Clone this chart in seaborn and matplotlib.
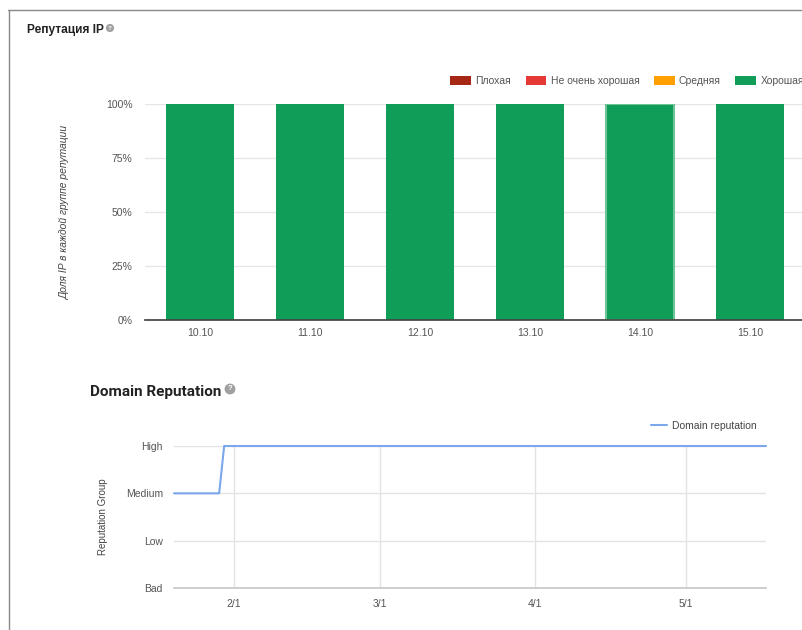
import numpy as np
import pandas as pd
import matplotlib
matplotlib.use("Agg")
import matplotlib.pyplot as plt
import matplotlib.dates as mdates
from matplotlib.patches import Patch
from matplotlib.lines import Line2D
import seaborn as sns

# IP reputation data (share of IPs per group, by day)
days = ["10.10", "11.10", "12.10", "13.10", "14.10", "15.10"]
groups = ["Плохая", "Не очень хорошая", "Средняя", "Хорошая"]
bad = [0, 0, 0, 0, 0, 0]
not_good = [0, 0, 0, 0, 0, 0]
medium = [0, 0, 0, 0, 0, 0]
good = [1.0, 1.0, 1.0, 1.0, 1.0, 1.0]
pct_ticks = [0, 0.25, 0.5, 0.75, 1.0]
pct_labels = ["0%", "25%", "50%", "75%", "100%"]

# Domain reputation data (change points only)
rep_dates = ["2020-01-20", "2020-01-29", "2020-01-30", "2020-05-17"]
rep_values = ["Medium", "Medium", "High", "High"]
rep_levels = ["Bad", "Low", "Medium", "High"]

group_colors = ["#a52714", "#e53935", "#ffa000", "#0f9d58"]
line_color = "#7ba7ec"
text_gray = "#555555"

sns.set_theme(style="white")
plt.rcParams["font.family"] = ["Liberation Sans", "DejaVu Sans"]

fig = plt.figure(figsize=(8.03, 6.3), dpi=100)
W, H = 803, 630

def box(x0, y0, x1, y1):
    return [x0 / W, 1 - y1 / H, (x1 - x0) / W, (y1 - y0) / H]

# frame of the screenshot
fig.add_artist(Line2D([8 / W, 1], [1 - 10 / H, 1 - 10 / H], color="#888888", lw=1))
fig.add_artist(Line2D([9 / W, 9 / W], [0, 1 - 10 / H], color="#888888", lw=1))

# ---------- top chart ----------
ax1 = fig.add_axes(box(145, 104, 805, 320))
layers = np.array([bad, not_good, medium, good], dtype=float)
cum = np.cumsum(layers, axis=0)
for i in range(len(groups) - 1, -1, -1):
    sns.barplot(x=days, y=cum[i], color=group_colors[i], width=0.62,
                saturation=1, linewidth=0, ax=ax1)

# hovered bar outline (14.10)
hover = ax1.patches[days.index("14.10")]
hover.set_edgecolor("#6cc596")
hover.set_linewidth(1.5)

ax1.set_xlim(-0.5, len(days) - 0.5)
ax1.set_ylim(0, 1)
ax1.set_yticks(pct_ticks)
ax1.set_yticklabels(pct_labels)
ax1.yaxis.grid(True, color="#e6e6e6", lw=1)
ax1.set_axisbelow(True)
for s in ["top", "right", "left"]:
    ax1.spines[s].set_visible(False)
ax1.spines["bottom"].set_color("#444444")
ax1.tick_params(axis="both", length=0, labelsize=7.5, colors=text_gray)
ax1.tick_params(axis="y", pad=9)
ax1.tick_params(axis="x", pad=6)
ax1.set_xlabel("")
ax1.set_ylabel("Доля IP в каждой группе репутации", fontsize=7.4, style="italic", color="#444444")
ax1.yaxis.set_label_coords(-0.114, 0.5)

handles = [Patch(facecolor=c, edgecolor="none") for c in group_colors]
fig.legend(handles, groups, loc="center left", bbox_to_anchor=(441 / W, 1 - 81 / H),
           ncol=4, frameon=False, fontsize=7.5, handlelength=2.0, handleheight=0.9,
           handletextpad=0.4, columnspacing=1.4, labelcolor=text_gray)

fig.text(27 / W, 1 - 30 / H, "Репутация IP", fontsize=8.6, fontweight="bold",
         color="#222222", va="center", ha="left")
fig.text(110 / W, 1 - 28 / H, "?", fontsize=4.5, color="white", fontweight="bold",
         va="center", ha="center",
         bbox=dict(boxstyle="circle,pad=0.25", fc="#a0a0a0", ec="none"))

# ---------- bottom chart ----------
ax2 = fig.add_axes(box(174, 446, 766, 588))
rep = pd.DataFrame({"date": pd.to_datetime(rep_dates),
                    "level": [rep_levels.index(v) for v in rep_values]})
sns.lineplot(data=rep, x="date", y="level", color=line_color, lw=1.5, ax=ax2,
             clip_on=False, label="Domain reputation")

ax2.set_xlim(rep["date"].min(), rep["date"].max())
ax2.set_ylim(0, 3)
ax2.set_yticks(range(len(rep_levels)))
ax2.set_yticklabels(rep_levels)
ax2.xaxis.set_major_locator(mdates.MonthLocator())
ax2.xaxis.set_major_formatter(mdates.DateFormatter("%-m/%-d"))
ax2.grid(True, color="#e3e3e3", lw=1)
ax2.set_axisbelow(True)
for s in ["top", "right", "left"]:
    ax2.spines[s].set_visible(False)
ax2.spines["bottom"].set_color("#c8c8c8")
ax2.tick_params(axis="both", length=0, labelsize=7.5, colors=text_gray)
ax2.tick_params(axis="y", pad=8)
ax2.tick_params(axis="x", pad=8)
ax2.set_xlabel("")
ax2.set_ylabel("Reputation Group", fontsize=7, color="#444444")
ax2.yaxis.set_label_coords(-0.111, 0.5)
ax2.legend(loc="center right", bbox_to_anchor=(1.0, 1 + 20 / 142), frameon=False,
           fontsize=7.5, handlelength=1.5, handletextpad=0.5, labelcolor="#444444")

fig.text(90 / W, 1 - 392 / H, "Domain Reputation", fontsize=11, fontweight="bold",
         color="#222222", va="center", ha="left", family=["Roboto", "DejaVu Sans"])
fig.text(230 / W, 1 - 389 / H, "?", fontsize=5.5, color="white", fontweight="bold",
         va="center", ha="center",
         bbox=dict(boxstyle="circle,pad=0.25", fc="#a0a0a0", ec="none"))

fig.savefig("out.png", dpi=100)
